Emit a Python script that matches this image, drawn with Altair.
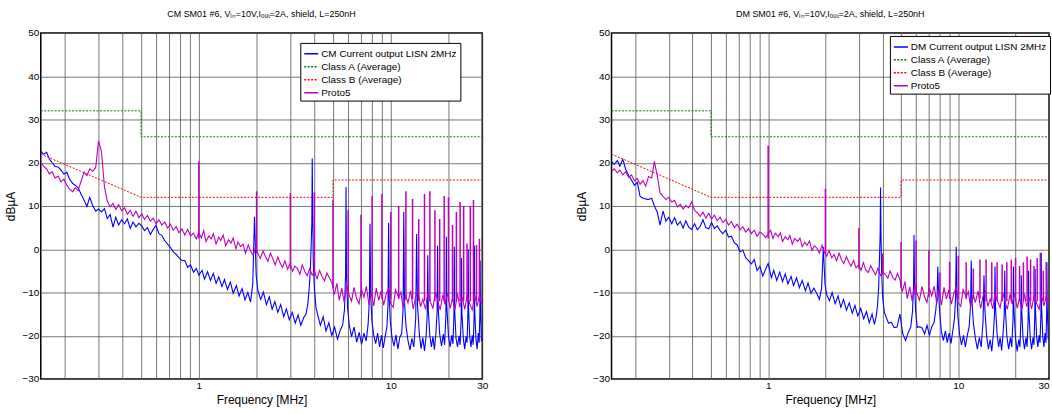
import altair as alt
import pandas as pd

# ---------------- data ----------------
BLUE_FREQ = [
    0.150, 0.155, 0.161, 0.166, 0.172, 0.178, 0.185, 0.191, 0.198, 0.205,
    0.212, 0.220, 0.227, 0.235, 0.244, 0.252, 0.261, 0.270, 0.280, 0.290,
    0.300, 0.311, 0.322, 0.333, 0.345, 0.357, 0.369, 0.382, 0.396, 0.410,
    0.424, 0.439, 0.454, 0.470, 0.487, 0.504, 0.521, 0.540, 0.559, 0.578,
    0.598, 0.619, 0.641, 0.664, 0.687, 0.711, 0.736, 0.762, 0.788, 0.816,
    0.845, 0.874, 0.905, 0.937, 0.970, 1.00, 1.04, 1.07, 1.11, 1.15,
    1.19, 1.23, 1.27, 1.32, 1.36, 1.41, 1.46, 1.51, 1.57, 1.62,
    1.68, 1.74, 1.80, 1.86, 1.91, 1.95, 1.99, 2.03, 2.10, 2.17,
    2.25, 2.33, 2.41, 2.49, 2.58, 2.67, 2.77, 2.86, 2.96, 3.07,
    3.18, 3.29, 3.40, 3.52, 3.62, 3.70, 3.76, 3.81, 3.85, 3.88,
    3.90, 3.92, 3.95, 4.00, 4.08, 4.18, 4.30, 4.45, 4.60, 4.76,
    4.93, 5.10, 5.28, 5.46, 5.62, 5.74, 5.82, 5.85, 5.88, 5.96,
    6.08, 6.25, 6.45, 6.65, 6.85, 7.05, 7.25, 7.45, 7.62, 7.74,
    7.80, 7.86, 7.98, 8.15, 8.35, 8.55, 8.75, 8.95, 9.15, 9.35,
    9.55, 9.68, 9.75, 9.82, 9.95, 10.15, 10.4, 10.65, 10.9, 11.15,
    11.4, 11.6, 11.7, 11.8, 12.0, 12.3, 12.6, 12.9, 13.2, 13.5,
    13.65, 13.8, 14.1, 14.4, 14.7, 15.0, 15.3, 15.5, 15.6, 15.7,
    16.0, 16.3, 16.6, 16.9, 17.2, 17.45, 17.55, 17.65, 18.0, 18.4,
    18.8, 19.1, 19.4, 19.5, 19.6, 20.0, 20.4, 20.8, 21.1, 21.35,
    21.45, 21.55, 21.9, 22.3, 22.7, 23.0, 23.3, 23.4, 23.5, 23.9,
    24.3, 24.7, 25.0, 25.25, 25.35, 25.45, 25.8, 26.2, 26.6, 26.9,
    27.2, 27.3, 27.4, 27.8, 28.2, 28.6, 28.9, 29.15, 29.25, 29.35,
    29.7, 30.0,
]

CM_CURRENT = [
    22.7, 22.0, 22.4, 20.9, 20.0, 19.2, 19.0, 18.3, 17.4, 17.8,
    16.2, 15.2, 14.8, 14.2, 12.6, 11.4, 9.9, 12.0, 10.1, 8.8,
    9.3, 8.6, 9.4, 7.1, 8.0, 5.1, 7.4, 5.6, 6.8, 5.9,
    7.0, 4.8, 6.3, 5.2, 6.0, 5.4, 4.3, 5.0, 3.4, 4.6,
    5.5, 3.6, 3.2, 2.0, 1.2, 0.4, -0.6, -1.2, -2.0, -2.6,
    -2.6, -4.2, -3.6, -5.3, -4.4, -6.0, -4.9, -6.9, -5.2, -7.2,
    -5.6, -7.9, -6.4, -8.6, -7.0, -9.3, -7.6, -10.2, -8.4, -10.8,
    -9.1, -11.7, -10.0, -12.2, -8.0, 7.5, -6.0, -9.5, -11.6, -9.9,
    -12.8, -11.0, -13.9, -12.1, -14.6, -12.8, -15.6, -13.8, -16.3, -14.6,
    -17.1, -15.2, -17.6, -15.8, -15.0, -12.5, -9.0, -5.0, 1.0, 6.0,
    21.0, 8.0, -3.0, -9.0, -13.5, -15.5, -17.6, -15.6, -18.9, -17.0,
    -20.0, -18.0, -20.8, -18.7, -17.5, -14.0, -6.0, 14.4, -5.0, -13.5,
    -17.5, -20.2, -18.0, -21.5, -19.2, -22.0, -19.4, -21.2, -17.5, -12.0,
    5.9, -10.0, -16.5, -19.8, -21.8, -19.4, -22.6, -19.9, -22.8, -20.2,
    -18.0, -13.0, 6.1, -11.0, -16.5, -20.3, -22.4, -19.8, -23.1, -20.4,
    -19.5, -14.0, 8.6, -12.0, -17.5, -21.1, -23.3, -20.6, -22.6, -16.0,
    3.5, -13.0, -19.6, -23.0, -20.4, -23.5, -20.0, -15.0, -1.4, -14.0,
    -20.1, -22.6, -20.2, -23.2, -19.5, -14.5, 0.8, -13.0, -19.6, -22.4,
    -19.6, -22.1, -15.0, 2.9, -13.0, -20.1, -22.6, -19.9, -21.9, -15.5,
    0.6, -14.0, -20.6, -22.6, -20.0, -22.1, -16.0, -2.0, -14.5, -20.6,
    -23.1, -20.2, -21.6, -15.0, 0.0, -13.5, -20.1, -22.6, -19.9, -22.1,
    -16.0, 0.8, -14.0, -20.6, -23.1, -19.4, -21.6, -15.0, -2.6, -13.0,
    -21.1, -20.9,
]

DM_CURRENT = [
    20.3, 19.6, 20.5, 19.2, 20.8, 18.5, 17.0, 16.0, 14.8, 15.5,
    12.2, 11.8, 11.6, 11.5, 11.8, 10.0, 8.6, 5.6, 8.8, 6.5,
    7.4, 5.9, 7.3, 5.6, 6.4, 4.9, 6.6, 5.1, 4.6, 5.9,
    4.5, 5.3, 6.8, 5.0, 4.7, 6.2, 4.8, 5.4, 4.3, 3.6,
    4.4, 2.8, 3.0, 1.5, 1.0, -0.6, -0.2, -2.0, -2.6, -3.4,
    -2.4, -4.9, -4.0, -6.2, -4.6, -3.3, -6.6, -4.9, -7.2, -5.3,
    -7.5, -5.7, -8.0, -6.3, -8.4, -6.6, -8.9, -7.2, -9.6, -7.8,
    -10.2, -9.0, -10.2, -11.6, -9.0, 0.5, -8.0, -10.5, -11.9, -10.0,
    -12.6, -10.8, -13.4, -11.6, -14.1, -12.4, -14.8, -13.0, -15.4, -13.7,
    -16.1, -14.4, -17.0, -15.0, -17.4, -15.5, -13.0, -9.0, -2.0, 3.0,
    14.3, 4.0, -5.0, -11.0, -14.5, -15.8, -17.1, -16.9, -18.1, -18.0,
    -15.0, -19.5, -21.1, -19.2, -18.0, -14.5, -8.0, 3.3, -7.0, -14.0,
    -18.1, -17.9, -18.2, -19.6, -17.6, -19.9, -17.9, -17.0, -14.0, -10.5,
    -4.0, -9.0, -14.5, -19.1, -21.1, -18.9, -21.6, -19.4, -21.8, -18.9,
    -16.0, -11.0, 0.6, -10.0, -15.5, -19.6, -22.1, -19.9, -22.6, -19.9,
    -18.0, -13.0, -2.6, -12.0, -17.0, -20.6, -23.1, -20.4, -22.6, -16.5,
    -6.0, -14.0, -20.1, -23.1, -20.9, -23.6, -19.4, -15.0, -4.0, -13.5,
    -19.6, -22.6, -20.4, -23.4, -19.4, -15.0, -5.0, -13.0, -20.1, -23.1,
    -20.4, -22.6, -16.0, -4.0, -13.5, -20.6, -23.6, -20.9, -22.6, -16.0,
    -6.0, -14.0, -20.6, -23.1, -20.4, -22.6, -16.0, -5.0, -14.0, -20.6,
    -23.1, -20.4, -22.1, -15.5, -4.5, -13.5, -20.1, -22.6, -19.9, -21.6,
    -15.0, -0.8, -13.0, -20.1, -22.6, -19.4, -21.6, -15.0, -3.0, -13.0,
    -20.6, -20.4,
]

PROTO_FREQ = [
    0.150, 0.155, 0.161, 0.166, 0.172, 0.178, 0.185, 0.191, 0.198, 0.205,
    0.212, 0.220, 0.227, 0.235, 0.244, 0.252, 0.261, 0.270, 0.280, 0.290,
    0.300, 0.311, 0.322, 0.333, 0.345, 0.357, 0.369, 0.382, 0.396, 0.410,
    0.424, 0.439, 0.454, 0.470, 0.487, 0.504, 0.521, 0.540, 0.559, 0.578,
    0.598, 0.619, 0.641, 0.664, 0.687, 0.711, 0.736, 0.762, 0.788, 0.816,
    0.845, 0.874, 0.905, 0.937, 0.970, 1.00, 1.03, 1.06, 1.09, 1.13,
    1.16, 1.19, 1.23, 1.27, 1.30, 1.34, 1.38, 1.43, 1.47, 1.51,
    1.56, 1.60, 1.65, 1.70, 1.75, 1.81, 1.86, 1.92, 1.97, 2.03,
    2.09, 2.16, 2.22, 2.29, 2.36, 2.43, 2.50, 2.58, 2.65, 2.73,
    2.81, 2.90, 2.99, 3.08, 3.17, 3.26, 3.36, 3.46, 3.57, 3.67,
    3.78, 3.90, 4.01, 4.13, 4.26, 4.38, 4.52, 4.65, 4.79, 4.94,
    5.08, 5.24, 5.39, 5.56, 5.72, 5.90, 6.07, 6.25, 6.44, 6.64,
    6.84, 7.04, 7.25, 7.47, 7.70, 7.93, 8.16, 8.41, 8.66, 8.92,
    9.19, 9.47, 9.75, 10.0, 10.3, 10.6, 11.0, 11.3, 11.6, 12.0,
    12.3, 12.7, 13.1, 13.5, 13.9, 14.3, 14.7, 15.2, 15.6, 16.1,
    16.6, 17.1, 17.6, 18.1, 18.7, 19.2, 19.8, 20.4, 21.0, 21.6,
    22.3, 22.9, 23.6, 24.3, 25.1, 25.8, 26.6, 27.4, 28.2, 29.0,
    29.9, 30.0,
]

CM_PROTO5 = [
    20.1, 19.2, 18.6, 17.4, 17.9, 16.5, 16.9, 15.6, 16.2, 14.8,
    13.9, 13.3, 14.2, 13.6, 15.9, 17.8, 17.0, 18.6, 18.0, 18.9,
    25.0, 22.5, 14.5, 11.2, 9.8, 10.6, 9.2, 10.3, 8.9, 9.6,
    8.1, 9.0, 7.6, 8.8, 7.3, 8.2, 6.9, 7.8, 6.5, 7.2,
    5.9, 6.8, 5.6, 6.3, 4.9, 5.8, 4.4, 5.2, 3.8, 4.7,
    3.3, 4.6, 3.1, 3.7, 2.4, 3.9, 2.6, 4.3, 1.8, 3.1,
    2.4, 3.6, 1.2, 2.8, 2.0, 3.3, 0.8, 2.2, 1.4, 2.6,
    0.1, 1.7, 0.6, 1.2, -0.9, 1.0, -0.4, -1.4, 0.4, -1.0,
    -2.1, -0.4, -1.6, -2.8, -0.9, -2.2, -3.6, -1.8, -3.1, -4.2,
    -2.7, -4.6, -3.3, -5.1, -3.9, -4.4, -5.8, -3.6, -5.2, -6.1,
    -4.5, -6.0, -5.2, -6.8, -4.9, -6.3, -7.3, -5.5, -6.6, -7.8,
    -10.5, -7.9, -11.8, -9.0, -12.3, -8.4, -10.6, -12.0, -8.8, -11.4,
    -12.6, -9.3, -11.1, -8.6, -12.9, -10.0, -13.1, -9.0, -11.8, -9.6,
    -12.9, -10.4, -8.9, -12.6, -13.4, -9.4, -11.2, -9.9, -13.5, -10.8,
    -12.4, -9.6, -13.8, -10.9, -9.7, -13.3, -11.6, -13.9, -10.0, -12.2,
    -13.6, -9.9, -12.0, -14.0, -10.5, -12.8, -10.1, -13.7, -11.3, -14.1,
    -10.2, -13.4, -11.0, -13.9, -10.4, -12.6, -14.0, -10.6, -13.2, -10.8,
    -12.6, -11.0,
]

DM_PROTO5 = [
    18.0, 18.6, 17.7, 18.3, 17.2, 17.9, 16.6, 17.2, 15.8, 16.4,
    15.0, 15.9, 14.6, 16.8, 16.5, 20.3, 17.0, 13.0, 12.2, 11.5,
    12.0, 10.9, 11.3, 9.8, 10.4, 9.3, 10.1, 9.6, 11.0, 9.0,
    8.4, 7.6, 8.6, 7.2, 8.3, 7.0, 7.9, 6.6, 7.4, 6.2,
    6.9, 5.6, 6.4, 5.0, 5.8, 4.5, 5.2, 4.0, 4.8, 3.6,
    4.4, 3.0, 4.0, 3.5, 2.7, 3.6, 4.4, 2.5, 3.7, 2.9,
    3.8, 1.8, 2.9, 2.2, 3.2, 1.2, 2.5, 1.8, 2.6, 0.6,
    1.6, 0.9, 1.9, -0.3, 0.8, 0.2, -0.9, 0.9, -0.6, -1.6,
    -0.3, -2.0, -1.2, -2.7, -0.9, -2.4, -3.3, -1.7, -2.9, -3.9,
    -2.6, -4.3, -3.6, -4.9, -3.1, -4.8, -5.4, -3.8, -4.9, -5.9,
    -4.4, -6.1, -5.3, -5.8, -6.7, -5.0, -6.6, -7.1, -5.6, -7.2,
    -9.8, -7.5, -11.4, -8.7, -12.0, -8.2, -10.3, -11.8, -8.6, -11.0,
    -12.3, -9.0, -10.8, -8.5, -12.6, -9.6, -12.9, -8.8, -11.5, -9.4,
    -12.7, -10.2, -8.8, -12.4, -13.2, -9.3, -11.0, -9.8, -13.4, -10.6,
    -12.3, -9.6, -13.7, -10.8, -9.8, -13.2, -11.5, -13.8, -10.0, -12.1,
    -13.5, -10.0, -12.0, -13.9, -10.4, -12.7, -10.2, -13.6, -11.2, -14.0,
    -10.3, -13.3, -11.1, -13.8, -10.5, -12.5, -13.9, -10.6, -13.1, -10.9,
    -12.4, -11.2,
]

# Proto5 harmonics (1 MHz switching): frequency, peak level, foot level
SPIKE_FREQ = [1, 2, 3, 4, 5, 6, 7, 8, 9, 10, 11, 12, 13, 14, 15,
              16, 17, 18, 19, 20, 21, 22, 23, 24, 25, 26, 27, 28, 29]
CM_SPIKE_TOP = [20.3, 13.4, 13.0, 13.2, 11.5, 9.0, 8.0, 12.3, 12.8, 8.6, 10.0, 13.4, 11.6, 7.0, 12.8,
                13.4, 9.0, 7.0, 12.3, 12.0, 5.6, 8.6, 10.9, 10.0, 1.3, 10.0, 11.4, 1.0, 2.4]
DM_SPIKE_TOP = [24.0, 14.0, 4.9, -1.0, 1.7, 2.0, -0.3, -5.4, -2.9, -1.5, -3.0, -4.5, -2.4, -2.4, -3.0,
                -3.0, -3.5, -3.0, -2.4, -2.0, -3.9, -3.0, -1.7, -2.4, -3.9, -2.0, -0.8, -5.0, -3.0]
SPIKE_FOOT = [2.5, -1.0, -4.5, -6.0, -9.0, -10.5, -11.0, -11.0, -11.5, -11.5, -11.5, -11.5, -11.5, -12.0, -12.0,
              -12.0, -12.0, -12.0, -12.0, -12.0, -12.0, -12.0, -12.0, -12.0, -12.0, -12.0, -12.0, -12.0, -12.0]

# average limits
CLASS_A_FREQ = [0.15, 0.5, 0.5, 30]
CLASS_A_LEVEL = [32, 32, 26, 26]
CLASS_B_FREQ = [0.15, 0.5, 5, 5, 30]
CLASS_B_LEVEL = [22, 12, 12, 16, 16]

GRID_FREQ = [0.2, 0.3, 0.4, 0.5, 0.6, 0.7, 0.8, 0.9, 1, 2, 3, 4, 5, 6, 7, 8, 9, 10, 20, 30]
Y_TICKS = [-30, -20, -10, 0, 10, 20, 30, 40, 50]

FONT = "Liberation Sans"
CLASS_A = "Class A (Average)"
CLASS_B = "Class B (Average)"
PROTO = "Proto5"


def panel(tag, current, proto, spike_top, width, legend_x, legend_y, flush):
    cur_name = f"{tag} Current output LISN 2MHz"
    domain = [cur_name, CLASS_A, CLASS_B, PROTO]
    legend = alt.Legend(
        orient="none", legendX=legend_x, legendY=legend_y, title=None,
        fillColor="white", strokeColor="black", padding=3, cornerRadius=0,
        symbolType="stroke", symbolSize=200, symbolStrokeWidth=1.5,
        labelFont=FONT, labelFontSize=10, labelColor="black", labelLimit=0,
        rowPadding=0, labelOffset=2,
    )
    color = alt.Color("series:N", scale=alt.Scale(domain=domain,
                      range=["#0000ff", "#008000", "#ff0000", "#bf00bf"]), legend=legend)
    dash = alt.StrokeDash("series:N", scale=alt.Scale(domain=domain,
                          range=[[1, 0], [2, 1.5], [2, 1.5], [1, 0]]), legend=legend)

    x = alt.X("f:Q", scale=alt.Scale(type="log", domain=[0.15, 30], nice=False),
              axis=alt.Axis(values=GRID_FREQ, title="Frequency [MHz]",
                            labelExpr="datum.value == 1 ? '1' : datum.value == 10 ? '10' : datum.value == 30 ? '30' : ''",
                            labelFlush=flush, labelOverlap=False))
    y = alt.Y("v:Q", scale=alt.Scale(domain=[-30, 50], nice=False),
              axis=alt.Axis(values=Y_TICKS, title="dBµA"))

    cur_df = pd.DataFrame({"f": BLUE_FREQ, "v": current})
    cur_df["series"] = cur_name
    cur_df["i"] = range(len(cur_df))
    lim_df = pd.concat([
        pd.DataFrame({"f": CLASS_A_FREQ, "v": CLASS_A_LEVEL, "series": CLASS_A}),
        pd.DataFrame({"f": CLASS_B_FREQ, "v": CLASS_B_LEVEL, "series": CLASS_B}),
    ], ignore_index=True)
    lim_df["i"] = range(len(lim_df))
    pro_df = pd.DataFrame({"f": PROTO_FREQ, "v": proto})
    pro_df["series"] = PROTO
    pro_df["i"] = range(len(pro_df))
    spk_df = pd.DataFrame({"f": SPIKE_FREQ, "v": spike_top, "v2": SPIKE_FOOT})

    base_line = dict(x=x, y=y, color=color, strokeDash=dash, order=alt.Order("i:Q"))
    cur_layer = alt.Chart(cur_df).mark_line(strokeWidth=1.1, clip=True).encode(**base_line)
    lim_layer = alt.Chart(lim_df).mark_line(strokeWidth=1, clip=True).encode(**base_line)
    pro_layer = alt.Chart(pro_df).mark_line(strokeWidth=1.1, clip=True).encode(**base_line)
    spk_layer = alt.Chart(spk_df).mark_rule(strokeWidth=1.5, clip=True, color="#bf00bf").encode(
        x=alt.X("f:Q"), y=alt.Y("v:Q"), y2="v2:Q")

    title = alt.TitleParams(
        text=f"{tag} SM01 #6, Vᵢₙ=10V,Iₒᵤₜ=2A, shield, L=250nH",
        font=FONT, fontSize=9, fontWeight="normal", color="black",
        offset=9, frame="group", anchor="middle")

    return alt.layer(cur_layer, lim_layer, pro_layer, spk_layer).properties(
        width=width, height=348, title=title)


left = panel("CM", CM_CURRENT, CM_PROTO5, CM_SPIKE_TOP, 444, 261, 10, False)
right = panel("DM", DM_CURRENT, DM_PROTO5, DM_SPIKE_TOP, 440, 280, 3, True)

chart = alt.hconcat(left, right, spacing=86).resolve_scale(
    color="independent", strokeDash="independent"
).resolve_legend(
    color="independent", strokeDash="independent"
).properties(
    padding={"left": 4, "top": 8, "right": 0, "bottom": 0}
).configure(
    font=FONT, background="white"
).configure_view(
    stroke="black", strokeWidth=1.5
).configure_axis(
    grid=True, gridColor="#555555", gridWidth=0.8, gridOpacity=1,
    domain=False, ticks=False,
    labelFont=FONT, labelFontSize=10, labelColor="black", labelPadding=2,
    titleFont=FONT, titleFontSize=12, titleFontWeight="normal", titleColor="black",
    titlePadding=4,
)

chart.save("out.html", embed_options={"renderer": "svg", "actions": False})
